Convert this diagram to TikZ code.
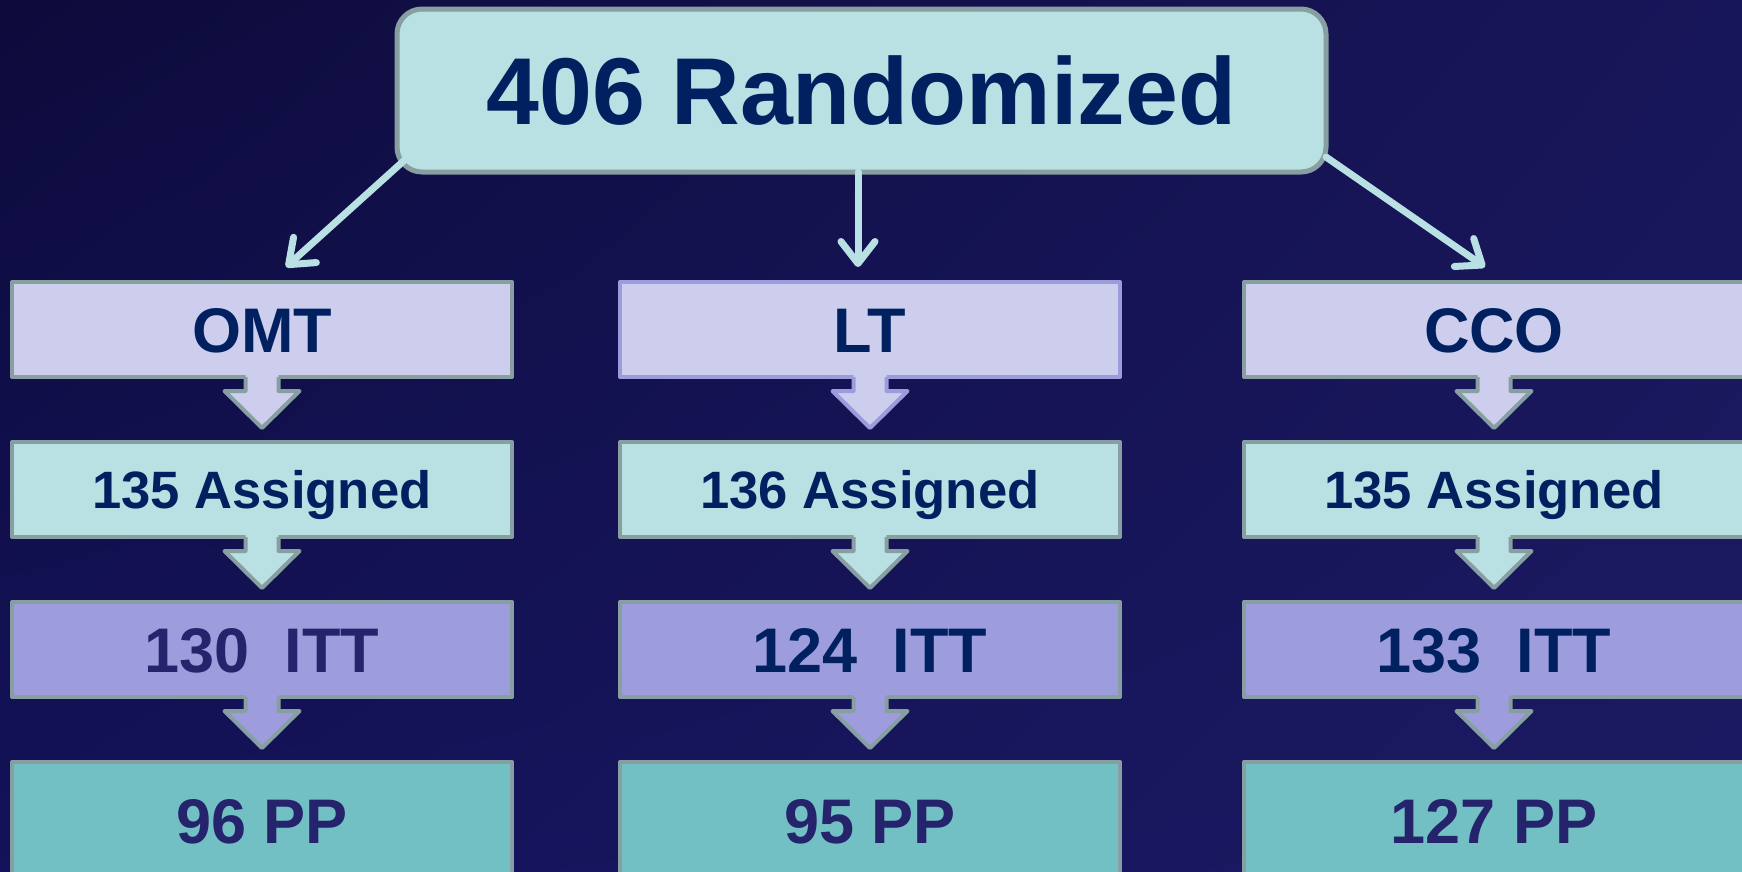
\documentclass[tikz,border=0pt]{standalone}
\usepackage{fontspec}
\setmainfont{Liberation Sans}
\usetikzlibrary{arrows.meta,calc,shadings}

% palette
\definecolor{bgTL}{HTML}{0D0B3B}
\definecolor{bgTR}{HTML}{18165A}
\definecolor{bgBL}{HTML}{13125A}
\definecolor{bgBR}{HTML}{1C1A62}
\definecolor{paleCyan}{HTML}{B9E0E3}
\definecolor{lavender}{HTML}{CDCDEE}
\definecolor{violet}{HTML}{9D9DDD}
\definecolor{teal}{HTML}{72BFC4}
\definecolor{edgeGrey}{HTML}{879FA0}
\definecolor{edgeViolet}{HTML}{9C9CDC}
\definecolor{navy}{HTML}{002060}
\definecolor{ink}{HTML}{25236B}

\tikzset{
  stagebox/.style={draw=edgeGrey, line width=4pt, line join=round,
    minimum width=500pt, minimum height=95pt, inner sep=0pt, outer sep=0pt,
    font=\bfseries\fontsize{63}{70}\selectfont, text height=45pt, text depth=0pt},
  armbox/.style={stagebox, fill=lavender, text=navy},
  assignbox/.style={stagebox, fill=paleCyan, text=navy,
    font=\bfseries\fontsize{52.6}{60}\selectfont, text height=37.7pt},
  ittbox/.style={stagebox, fill=violet, text=navy},
  ppbox/.style={stagebox, fill=teal, text=ink, minimum height=118pt},
  randbox/.style={draw=edgeGrey, fill=paleCyan, text=navy, line width=5pt,
    rounded corners=25pt, minimum width=929pt, minimum height=163pt,
    inner sep=0pt, outer sep=0pt,
    font=\bfseries\fontsize{95}{100}\selectfont, text height=68pt, text depth=0pt},
  conn/.style={draw=paleCyan, line width=7pt, line cap=round,
    -{Straight Barb[length=22pt, width=34pt, round]}},
}

% block arrow hanging below a box: #1 box, #2 fill, #3 outline
\newcommand\downblock[3]{%
  \fill[#2] ($(#1.south)+(-16.5,-3)$) -- ++(0,17) -- ++(-21,0) -- ++(37.5,37)
     -- ++(37.5,-37) -- ++(-21,0) -- ++(0,-17) -- cycle;
  \draw[#3, line width=4pt, line join=round] ($(#1.south)+(-16.5,0)$) -- ++(0,14)
     -- ++(-21,0) -- ++(37.5,37) -- ++(37.5,-37) -- ++(-21,0) -- ++(0,-14);
}

\begin{document}
\begin{tikzpicture}[x=1pt,y=-1pt]
\useasboundingbox (0,0) rectangle (1742,871);
\clip (0,0) rectangle (1742,871);
\shade[upper left=bgTL, upper right=bgTR, lower left=bgBL, lower right=bgBR]
  (0,0) rectangle (1742,871);

% top node
\node[randbox] (rand) at (861.5,90.5) {406 Randomized};

% three arms
\node[armbox] (omt) at (262,329.5) {OMT};
\node[armbox, draw=edgeViolet] (lt) at (870,329.5) {LT};
\node[armbox] (cco) at (1494,329.5) {CCO};

\node[assignbox] (asgA) at (262,489.5) {135 Assigned};
\node[assignbox] (asgB) at (870,489.5) {136 Assigned};
\node[assignbox] (asgC) at (1494,489.5) {135 Assigned};

\node[ittbox, text=ink] (ittA) at (262,649.5) {130~~ITT};
\node[ittbox] (ittB) at (870,649.5) {124~~ITT};
\node[ittbox] (ittC) at (1494,649.5) {133~~ITT};

\node[ppbox] (ppA) at (262,821) {96 PP};
\node[ppbox] (ppB) at (870,821) {95 PP};
\node[ppbox] (ppC) at (1494,821) {127 PP};

% block arrows between stages
\downblock{omt}{lavender}{edgeGrey}
\downblock{lt}{lavender}{edgeViolet}
\downblock{cco}{lavender}{edgeGrey}
\downblock{asgA}{paleCyan}{edgeGrey}
\downblock{asgB}{paleCyan}{edgeGrey}
\downblock{asgC}{paleCyan}{edgeGrey}
\downblock{ittA}{violet}{edgeGrey}
\downblock{ittB}{violet}{edgeGrey}
\downblock{ittC}{violet}{edgeGrey}

% randomisation arrows
\draw[conn] ($(rand.south west)+(11,-15)$) -- ($(omt.north)+(24,-15)$);
\draw[conn] ($(rand.south)+(-3.5,0)$) -- ($(lt.north)+(-12,-15)$);
\draw[conn] ($(rand.south east)+(0,-15)$) -- ($(cco.north)+(-9,-15)$);
\end{tikzpicture}
\end{document}
